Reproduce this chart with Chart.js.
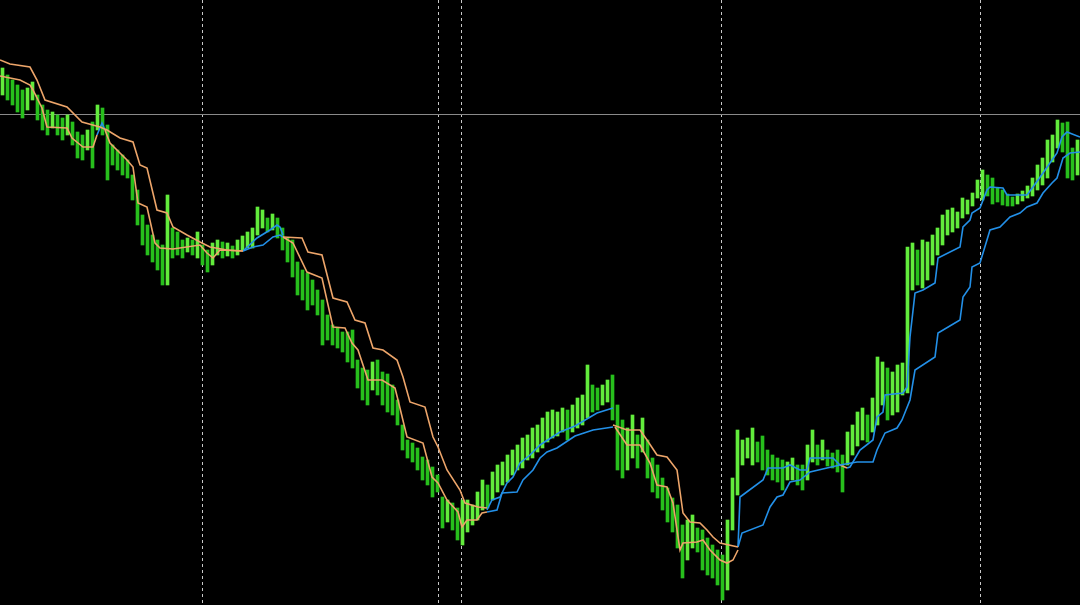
<!DOCTYPE html>
<html>
<head>
<meta charset="utf-8">
<script src="https://cdn.jsdelivr.net/npm/chart.js@4"></script>
<style>
  html, body { margin: 0; padding: 0; background: #000; }
  canvas { display: block; }
</style>
</head>
<body>
<canvas id="grafico" width="1080" height="605"></canvas>
<script>
// maximos y minimos de cada barra (indice de barra = tiempo)
const highs = [
  537,530,525,520,515,517,523,510,500,495,
  493,490,487,490,483,473,470,475,483,500,
  497,480,460,455,450,445,430,415,390,380,
  370,365,360,410,377,373,365,367,365,373,
  360,355,362,365,363,362,359,365,369,373,
  377,398,395,387,391,387,377,367,365,343,
  335,332,325,315,305,290,280,277,273,273,
  275,245,237,235,243,245,233,231,220,205,
  180,165,162,157,148,145,138,130,108,105,
  102,97,105,105,100,113,125,120,133,140,
  143,150,155,160,167,170,177,180,187,193,
  195,193,197,195,200,207,210,240,220,217,
  220,225,230,200,185,177,190,170,187,165,
  147,140,127,117,107,100,80,85,90,77,
  75,67,60,55,50,85,127,175,165,167,
  177,163,169,155,150,147,145,143,147,140,
  140,160,175,160,165,155,152,155,150,173,
  180,193,197,190,207,248,243,237,233,240,
  242,358,362,355,365,363,370,377,390,395,
  397,393,407,405,412,425,435,430,427,417,
  415,411,408,411,414,419,427,440,447,465,
  470,485,482,483,457,465
];
const lows = [
  510,505,500,493,487,495,505,485,475,470,
  477,470,465,470,460,447,445,455,437,475,
  470,425,440,435,430,427,405,380,360,350,
  343,335,320,320,347,350,347,353,350,347,
  340,333,340,350,347,349,347,350,355,357,
  357,370,377,373,375,367,355,343,328,310,
  305,295,300,290,260,265,260,257,253,243,
  237,217,205,200,215,210,200,193,190,180,
  155,147,143,135,125,120,108,113,77,83,
  75,65,60,73,80,85,95,97,105,113,
  120,123,130,135,137,145,147,153,157,163,
  167,169,173,165,173,177,180,187,193,195,
  200,203,185,135,127,135,147,137,153,127,
  113,107,95,83,73,57,27,45,57,53,
  35,30,27,20,5,15,75,110,140,147,
  140,143,135,130,125,123,115,125,125,120,
  115,125,143,140,145,139,137,133,113,140,
  150,159,165,163,173,180,200,185,190,193,
  210,212,315,320,317,325,340,350,360,370,
  373,377,387,391,399,407,405,409,401,403,
  400,399,399,401,404,407,409,415,420,427,
  443,457,453,427,425,430
];

// stop lento: tramos por encima del precio (naranja) y por debajo (azul)
const slowDown = [
  [[-0.5,545],[1.5,541],[5.5,538],[6.9,525],[8.5,505],[12.9,498],[15.9,483],[19.5,478],[20.9,475],[23.5,467],[26.1,463],[27.5,440],[28.9,437],[30.9,395],[32.9,392],[34.1,378],[36.9,370],[39.5,363],[41.5,358],[44.9,355],[48.1,354]],
  [[56.1,368],[59.9,367],[61.1,353],[63.9,350],[66.1,307],[68.9,303],[70.5,285],[72.5,282],[74.1,257],[76.1,255],[78.9,245],[80.1,228],[81.5,203],[84.5,198],[86.1,168],[87.1,158],[88.9,135],[91.5,115],[92.5,102],[95.1,98],[96.9,97]],
  [[122.1,180],[124.9,175],[127.5,175],[128.9,165],[130.9,150],[132.9,148],[134.9,135],[136.1,92],[137.5,83],[139.5,82],[140.9,75],[142.1,68],[143.5,62],[147.1,58]]
];
const slowUp = [
  [[48.1,354],[50.1,358],[52.1,360],[54.1,368],[55.5,370],[56.1,368]],
  [[96.9,93],[98.9,95],[99.9,112],[102.9,113],[104.1,125],[106.1,135],[107.5,147],[108.9,153],[110.9,157],[114.5,169],[118.1,175],[122.1,178]],
  [[147.1,58],[147.9,72],[152.1,80],[153.5,98],[154.9,108],[156.1,110],[157.5,123],[159.5,125],[161.5,133],[164.9,137],[167.5,140],[170.9,143],[174.1,143],[174.9,155],[176.5,172],[178.9,177],[179.9,185],[181.5,205],[182.5,235],[186.5,248],[187.1,272],[191.5,285],[192.1,308],[193.5,318],[193.9,338],[195.5,342],[197.5,375],[199.5,378],[201.5,388],[203.5,392],[204.9,398],[206.9,402],[208.1,412],[209.9,422],[210.9,427],[212.1,447],[213.5,452],[215.5,453]]
];

// stop rapido
const fastDown = [
  [[-0.5,529],[3.5,525],[5.5,520],[6.1,515],[7.9,497],[8.9,478],[12.9,477],[13.9,467],[16.1,458],[18.1,458],[18.9,470]],
  [[20.5,475],[21.5,462],[23.5,452],[24.9,445],[26.1,438],[27.1,402],[28.9,398],[30.5,362],[31.5,357],[34.1,356],[39.5,360],[40.9,352],[42.1,347],[43.5,355],[48.1,354]],
  [[56.1,368],[58.1,362],[60.9,333],[63.9,327],[66.1,278],[68.5,277],[69.9,262],[71.1,255],[73.1,225],[75.9,225],[78.5,217],[79.1,205],[80.9,168],[84.1,162],[85.9,128],[87.1,122],[88.9,105],[91.1,93],[91.9,78],[92.9,85],[94.9,85],[95.9,92],[96.9,93]],
  [[122.5,178],[124.9,160],[127.5,160],[129.5,142],[130.9,120],[132.9,118],[134.1,102],[135.5,55],[136.1,62],[138.9,63],[140.1,65],[141.5,55],[143.5,45],[144.9,42],[146.1,45],[147.1,55]],
  [[167.5,140],[168.9,137]]
];
const fastUp = [
  [[18.9,470],[19.9,482],[20.5,475]],
  [[48.1,354],[50.9,367],[53.5,375],[54.9,380],[55.5,378],[56.1,370]],
  [[96.9,95],[97.9,105],[99.5,108],[100.9,122],[102.1,128],[103.5,142],[105.5,150],[107.5,160],[111.5,173],[114.5,179],[118.9,192],[122.1,197]],
  [[147.1,58],[147.5,108],[152.1,125],[153.1,137],[156.1,137],[157.5,140],[159.5,135],[160.9,135],[161.5,147],[166.1,147],[167.5,140]],
  [[168.9,137],[169.5,138],[171.5,155],[174.1,165],[174.9,188],[176.1,193],[176.5,210],[180.1,212],[180.9,218],[181.5,268],[182.5,312],[184.1,315],[186.5,322],[187.1,347],[191.5,358],[192.1,378],[193.5,385],[193.9,392],[195.5,397],[196.9,415],[197.5,418],[200.1,417],[200.9,410],[204.9,410],[206.1,418],[208.1,432],[209.5,442],[210.9,452],[211.9,468],[212.9,473],[215.5,468]]
];

// separadores de periodo (posicion en barras) y nivel horizontal
const separators = [39.9, 87.1, 91.7, 143.7, 195.5];
const levelLine = 491;

const naranja = '#eda56a';
const azul = '#2390e8';

function joinSegments(segs) {
  const out = [];
  segs.forEach((s, k) => {
    if (k > 0) out.push({x: s[0][0], y: null});
    s.forEach(p => out.push({x: p[0], y: p[1]}));
  });
  return out;
}

function lineSet(segs, color) {
  return {
    type: 'line',
    data: joinSegments(segs),
    borderColor: color,
    borderWidth: 1.6,
    pointRadius: 0,
    tension: 0,
    spanGaps: false,
    order: 1
  };
}

const rejilla = {
  id: 'rejilla',
  beforeDatasetsDraw(chart) {
    const {ctx, chartArea, scales: {x, y}} = chart;
    ctx.save();
    ctx.lineWidth = 1;
    ctx.strokeStyle = '#c8c8c8';
    ctx.setLineDash([3, 3]);
    separators.forEach(s => {
      const px = Math.round(x.getPixelForValue(s)) + 0.5;
      ctx.beginPath();
      ctx.moveTo(px, chartArea.top);
      ctx.lineTo(px, chartArea.bottom);
      ctx.stroke();
    });
    ctx.setLineDash([]);
    ctx.strokeStyle = '#8a8a8a';
    const py = Math.round(y.getPixelForValue(levelLine)) + 0.5;
    ctx.beginPath();
    ctx.moveTo(chartArea.left, py);
    ctx.lineTo(chartArea.right, py);
    ctx.stroke();
    ctx.restore();
  }
};

const ctx = document.getElementById('grafico');
new Chart(ctx, {
  type: 'bar',
  data: {
    datasets: [
      lineSet(slowDown, naranja),
      lineSet(slowUp, azul),
      lineSet(fastDown, naranja),
      lineSet(fastUp, azul),
      {
        type: 'bar',
        data: highs.map((h, i) => ({x: i, y: [lows[i], h]})),
        barThickness: 3,
        backgroundColor: c => {
          const i = c.dataIndex;
          const mid = (highs[i] + lows[i]) / 2;
          const prev = i > 0 ? (highs[i - 1] + lows[i - 1]) / 2 : mid;
          return mid >= prev ? '#62ec3c' : '#27bf1c';
        },
        borderWidth: 0,
        order: 2
      }
    ]
  },
  options: {
    responsive: false,
    animation: false,
    devicePixelRatio: 1,
    layout: { padding: 0 },
    scales: {
      x: { type: 'linear', display: false, min: -0.5, max: 215.5, offset: false },
      y: { display: false, min: 0, max: 605 }
    },
    plugins: {
      legend: { display: false },
      tooltip: { enabled: false }
    }
  },
  plugins: [rejilla]
});
</script>
</body>
</html>
